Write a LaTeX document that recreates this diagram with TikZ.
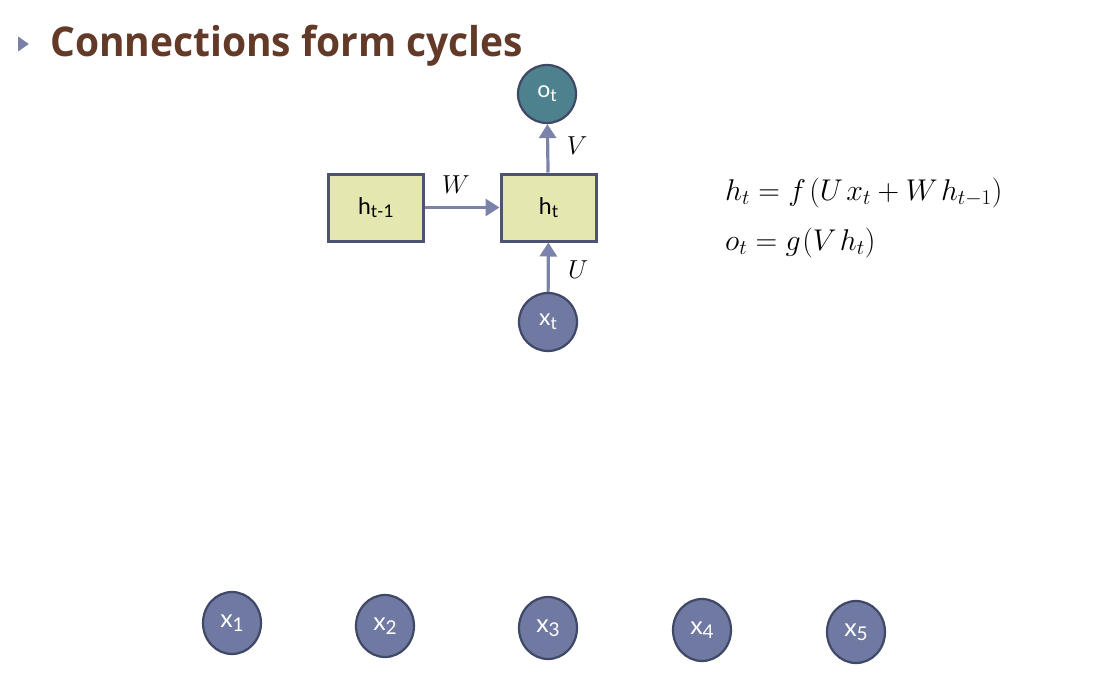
\RequirePackage{fix-cm}
\documentclass[tikz,border=0pt]{standalone}
\usepackage{fontspec}
\setmainfont{Latin Modern Roman}
\newfontfamily\titlefont{Open Sans}
\newfontfamily\nodefont{Lato}
\usetikzlibrary{arrows.meta,shapes.geometric}
\newcommand{\lowsub}[1]{\raisebox{-0.32ex}{\scalebox{0.76}{#1}}}
\definecolor{titlebrown}{HTML}{633928}
\definecolor{bulletblue}{HTML}{7780A8}
\definecolor{boxfill}{HTML}{E4E8B0}
\definecolor{boxline}{HTML}{4E5373}
\definecolor{ofill}{HTML}{4E818E}
\definecolor{xfill}{HTML}{6F79A1}
\definecolor{circline}{HTML}{3F4866}
\definecolor{arrowcol}{HTML}{7C83AB}
\tikzset{
  statebox/.style={draw=boxline, line width=3pt, fill=boxfill, minimum width=95pt, minimum height=67pt, inner sep=0pt, font=\nodefont\fontsize{23}{25}\selectfont},
  unit/.style={draw=circline, line width=2.2pt, circle, inner sep=0pt, minimum size=58pt, text=white, font=\nodefont\fontsize{23}{25}\selectfont},
  inputnode/.style={unit, fill=xfill},
  outputnode/.style={unit, fill=ofill},
  seqnode/.style={draw=circline, line width=2.2pt, ellipse, inner sep=0pt, minimum width=58pt, minimum height=62pt, fill=xfill, text=white, font=\nodefont\fontsize{25}{27}\selectfont},
  conn/.style={draw=arrowcol, line width=3.2pt, -{Triangle[length=14pt,width=17pt]}},
  wlabel/.style={font=\fontsize{26}{28}\selectfont, inner sep=0pt},
  eqn/.style={anchor=base west, inner sep=0pt, font=\fontsize{30}{33}\selectfont},
}
\begin{document}
\begin{tikzpicture}[x=1pt,y=-1pt]
\useasboundingbox (0,0) rectangle (1104,693);
% title
\node[fill=bulletblue, isosceles triangle, isosceles triangle apex angle=70, inner sep=0pt, minimum height=9pt, minimum width=15pt] (bullet) at (22,44) {};
\node[anchor=base west, inner sep=0pt, text=titlebrown, font=\titlefont\bfseries\fontsize{41}{45}\selectfont] (title) at (50,57) {\scalebox{0.95}[1]{Connections form cycles}};
% boxes
\node[statebox] (hprev) at (376,207.5) {h\lowsub{t-1}};
\node[statebox] (ht) at (548.5,207.5) {h\lowsub{t}};
\node[outputnode] (ot) at (547,94) {o\lowsub{t}};
\node[inputnode] (xt) at (548,322) {x\lowsub{t}};
\draw[conn] (hprev) -- (ht);
\draw[conn] (ht) -- (ot);
\draw[conn] (xt) -- (ht);
\node[wlabel] (W) at (456,185) {$W$};
\node[wlabel] (V) at (577,146) {$V$};
\node[wlabel] (U) at (578,270) {$U$};
% equations
\node[eqn] (eq1) at (725,200) {$h_t \mathrel{=} f\mkern2mu(U\mkern2mu x_t \mathbin{+} W\mkern2mu h_{t-1})$};
\node[eqn] (eq2) at (725,250) {$o_t \mathrel{=} g\mkern1mu(V\mkern2mu h_t)$};
% inputs
\foreach \i/\x/\y in {1/232/623, 2/385/626, 3/548/628, 4/702/630, 5/856/632}{
  \node[seqnode] (x\i) at (\x,\y) {x\lowsub{\i}};
}
\end{tikzpicture}
\end{document}
